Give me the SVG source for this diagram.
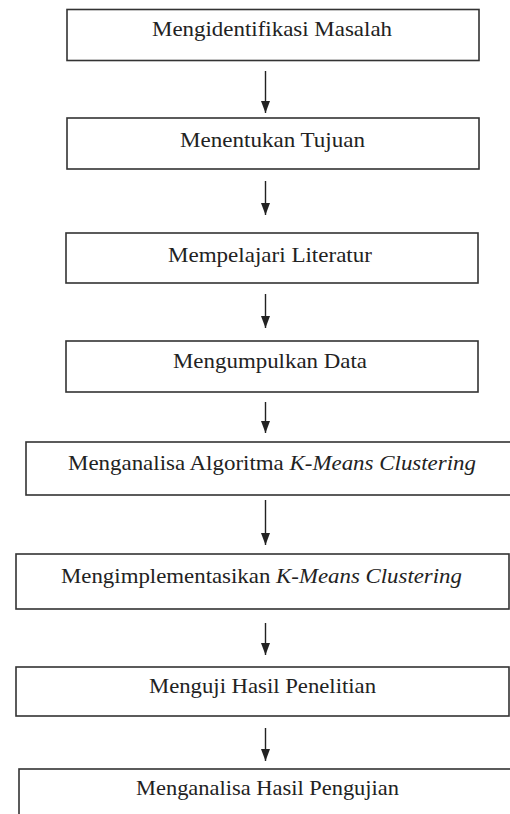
<svg xmlns="http://www.w3.org/2000/svg" width="510" height="814" viewBox="0 0 510 814">
<style>
.box{fill:#fff;stroke:#333;stroke-width:1.6}
.lbl{font-family:"Liberation Serif","Times New Roman",serif;font-size:20px;fill:#222}
.it{font-style:italic}
.arr{stroke:#222;stroke-width:1.4;fill:none;marker-end:url(#ah)}
</style>
<defs>
<marker id="ah" markerUnits="userSpaceOnUse" markerWidth="12" markerHeight="10" viewBox="0 0 12 10" refX="12" refY="5" orient="auto">
<path d="M0,0.5 L12,5 L0,9.5 z" fill="#222"/>
</marker>
</defs>
<rect width="510" height="814" fill="#fff"/>
<g id="connectors">
<line class="arr" x1="265.5" y1="71" x2="265.5" y2="113"/>
<line class="arr" x1="265.5" y1="181" x2="265.5" y2="215"/>
<line class="arr" x1="265.5" y1="294" x2="265.5" y2="328"/>
<line class="arr" x1="265.5" y1="402" x2="265.5" y2="433"/>
<line class="arr" x1="265.5" y1="500" x2="265.5" y2="545"/>
<line class="arr" x1="265.5" y1="623" x2="265.5" y2="655"/>
<line class="arr" x1="265.5" y1="728" x2="265.5" y2="761"/>
</g>
<g id="n1"><rect class="box" x="67" y="9.5" width="412" height="51"/><text class="lbl" transform="translate(152,36) scale(1.12,1)" textLength="214.3" lengthAdjust="spacingAndGlyphs">Mengidentifikasi Masalah</text></g>
<g id="n2"><rect class="box" x="67" y="118" width="412" height="51"/><text class="lbl" transform="translate(180,147) scale(1.12,1)" textLength="165.2" lengthAdjust="spacingAndGlyphs">Menentukan Tujuan</text></g>
<g id="n3"><rect class="box" x="66" y="233" width="412" height="50"/><text class="lbl" transform="translate(168,262) scale(1.12,1)" textLength="182.1" lengthAdjust="spacingAndGlyphs">Mempelajari Literatur</text></g>
<g id="n4"><rect class="box" x="66" y="341" width="412" height="51"/><text class="lbl" transform="translate(173,368) scale(1.12,1)" textLength="173.2" lengthAdjust="spacingAndGlyphs">Mengumpulkan Data</text></g>
<g id="n5"><rect class="box" x="26" y="442" width="490" height="53"/><text class="lbl" transform="translate(68,470) scale(1.12,1)" textLength="364.3" lengthAdjust="spacingAndGlyphs">Menganalisa Algoritma <tspan class="it">K-Means Clustering</tspan></text></g>
<g id="n6"><rect class="box" x="16" y="554" width="493" height="55"/><text class="lbl" transform="translate(61,583) scale(1.12,1)" textLength="358" lengthAdjust="spacingAndGlyphs">Mengimplementasikan <tspan class="it">K-Means Clustering</tspan></text></g>
<g id="n7"><rect class="box" x="16" y="667" width="493" height="49"/><text class="lbl" transform="translate(149,693) scale(1.12,1)" textLength="202.7" lengthAdjust="spacingAndGlyphs">Menguji Hasil Penelitian</text></g>
<g id="n8"><rect class="box" x="19" y="769" width="495" height="60"/><text class="lbl" transform="translate(136,795) scale(1.12,1)" textLength="234.8" lengthAdjust="spacingAndGlyphs">Menganalisa Hasil Pengujian</text></g>
</svg>
